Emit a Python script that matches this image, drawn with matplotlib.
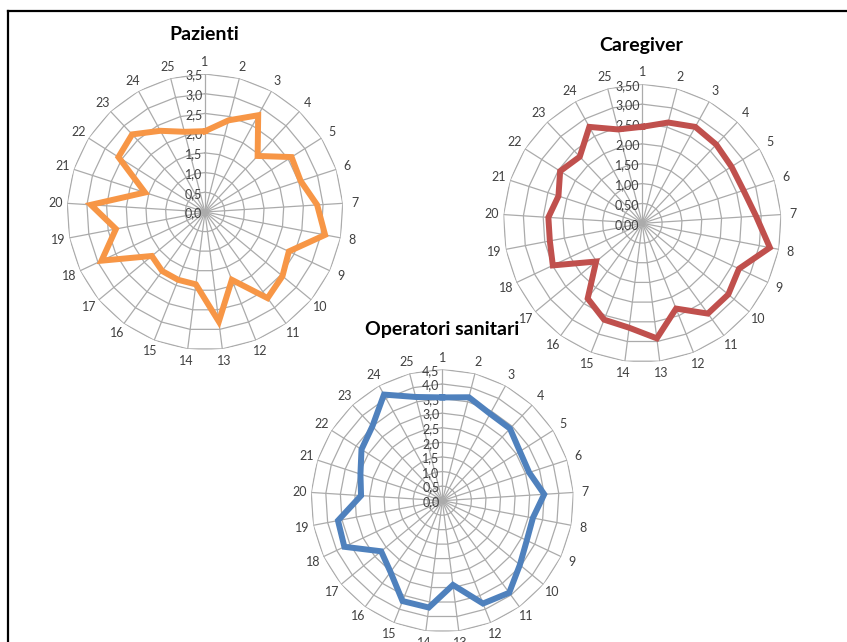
import numpy as np
import matplotlib
matplotlib.use("Agg")
import matplotlib.pyplot as plt
from matplotlib.lines import Line2D

plt.rcParams['font.family'] = ['Lato', 'DejaVu Sans']

categories = [str(i) for i in range(1, 26)]

pazienti = [2.05, 2.4, 2.8, 1.95, 2.6, 2.55, 2.85, 3.1, 2.35, 2.55, 2.7, 1.85, 2.8,
            1.85, 1.85, 1.85, 1.75, 2.9, 2.3, 2.9, 1.6, 2.6, 2.7, 2.35, 2.1]
caregiver = [2.43, 2.62, 2.77, 2.72, 2.66, 2.68, 2.87, 3.27, 2.69, 2.81, 2.81, 2.31, 2.92,
             2.65, 2.61, 2.34, 1.51, 2.49, 2.37, 2.37, 2.22, 2.45, 2.3, 2.77, 2.44]
operatori = [3.54, 3.66, 3.4, 3.39, 3.15, 3.13, 3.5, 3.16, 3.2, 3.45, 3.9, 3.79, 2.91,
             3.69, 3.7, 3.02, 2.72, 3.71, 3.64, 2.79, 2.95, 3.28, 3.5, 4.15, 3.67]

pazienti_ticks = [0.0, 0.5, 1.0, 1.5, 2.0, 2.5, 3.0, 3.5]
caregiver_ticks = [0.0, 0.5, 1.0, 1.5, 2.0, 2.5, 3.0, 3.5]
operatori_ticks = [0.0, 0.5, 1.0, 1.5, 2.0, 2.5, 3.0, 3.5, 4.0, 4.5]

W, H = 847, 642
fig = plt.figure(figsize=(W / 100, H / 100), dpi=100)
fig.patch.set_facecolor('white')

GRID = '#ABABAB'
TXT = '#404040'


def radar(center, radius, values, ticks, decimals, color, title, title_xy):
    cx, cy = center
    rect = [(cx - radius) / W, (H - cy - radius) / H, 2 * radius / W, 2 * radius / H]
    ax = fig.add_axes(rect, projection='polar')
    ax.set_theta_zero_location('N')
    ax.set_theta_direction(-1)
    n = len(categories)
    theta = np.arange(n) * 2 * np.pi / n
    rmax = ticks[-1]
    ax.set_ylim(0, rmax)
    ax.grid(False)
    ax.spines['polar'].set_visible(False)
    ax.set_yticks([])
    ax.set_xticks(theta)
    ax.set_xticklabels(categories, fontsize=9, color=TXT)
    ax.tick_params(axis='x', pad=-2)
    tclosed = np.append(theta, theta[0])
    # polygon grid
    for t in ticks[1:]:
        ax.plot(tclosed, [t] * (n + 1), color=GRID, lw=0.9, zorder=1)
    for th in theta:
        ax.plot([th, th], [0, rmax], color=GRID, lw=0.9, zorder=1)
    # radial tick labels
    for t in ticks:
        lab = f"{t:.{decimals}f}".replace('.', ',')
        ax.annotate(lab, xy=(0, t), xytext=(-2, -1), textcoords='offset points',
                    ha='right', va='center', fontsize=9, color=TXT, zorder=3)
    vals = list(values) + [values[0]]
    ax.plot(tclosed, vals, color=color, lw=4.3, solid_joinstyle='miter', zorder=4)
    ax.set_facecolor('none')
    fig.text(title_xy[0] / W, 1 - title_xy[1] / H, title, ha='center', va='center',
             fontsize=14, fontweight='bold', color='black')
    return ax


radar((205, 212), 138, pazienti, pazienti_ticks, 1, '#F79646', 'Pazienti', (204, 35))
radar((642.3, 223.3), 139, caregiver, caregiver_ticks, 2, '#C0504D', 'Caregiver', (641, 45))
radar((442.3, 500.7), 131.3, operatori, operatori_ticks, 1, '#4F81BD', 'Operatori sanitari', (442, 330))

# frame lines (top and left)
fig.add_artist(Line2D([8 / W, 1], [1 - 11 / H, 1 - 11 / H], transform=fig.transFigure,
                      color='black', lw=1.6))
fig.add_artist(Line2D([8 / W, 8 / W], [0, 1 - 11 / H], transform=fig.transFigure,
                      color='black', lw=1.6))

fig.savefig('out.png', dpi=100, facecolor='white')
